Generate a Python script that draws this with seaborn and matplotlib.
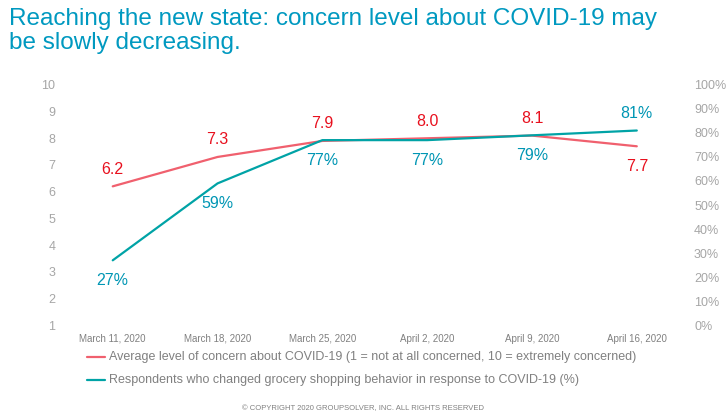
import matplotlib.pyplot as plt
import seaborn as sns
import pandas as pd

dates = ["March 11, 2020", "March 18, 2020", "March 25, 2020", "April 2, 2020", "April 9, 2020", "April 16, 2020"]
concern = [6.2, 7.3, 7.9, 8.0, 8.1, 7.7]
changed_pct = [27, 59, 77, 77, 79, 81]

red = "#f0606e"
teal = "#00a3a6"
label_red = "#e8101e"
label_teal = "#0096b4"
grey = "#a6a6a6"

sns.set_style("white")
plt.rcParams['font.family'] = ['Liberation Sans', 'DejaVu Sans']

df = pd.DataFrame({"date": dates, "concern": concern, "pct": changed_pct, "x": range(len(dates))})

fig = plt.figure(figsize=(7.27, 4.18), dpi=100)
ax = fig.add_axes([0.083, 0.222, 0.865, 0.575])
ax2 = ax.twinx()

sns.lineplot(data=df, x="x", y="concern", ax=ax, color=red, linewidth=1.6)
sns.lineplot(data=df, x="x", y="pct", ax=ax2, color=teal, linewidth=1.6)

ax.set_ylim(1, 10)
ax2.set_ylim(0, 100)
ax.set_xlim(-0.5, 5.5)
ax.set_yticks(range(1, 11))
ax2.set_yticks(range(0, 101, 10))
ax2.set_yticklabels([f"{v}%" for v in range(0, 101, 10)])
ax.set_xticks(df["x"])
ax.set_xticklabels(dates)
for a in (ax, ax2):
    a.tick_params(colors=grey, labelsize=9, length=0)
    a.set_xlabel("")
    a.set_ylabel("")
    for s in a.spines.values():
        s.set_visible(False)
ax.tick_params(axis="x", labelsize=7, colors="#808080", pad=6)

for i, v in enumerate(concern):
    off = -18 if i == 5 else 9
    ax.annotate(f"{v:.1f}", (i, v), xytext=(0, off), textcoords="offset points",
                ha="center", color=label_red, fontsize=11.5)
for i, v in enumerate(changed_pct):
    off = 9 if i == 5 else -18
    ax2.annotate(f"{v}%", (i, v), xytext=(0, off), textcoords="offset points",
                 ha="center", color=label_teal, fontsize=11.5)

fig.text(0.012, 0.98, "Reaching the new state: concern level about COVID-19 may\nbe slowly decreasing.",
         ha="left", va="top", fontsize=17.5, color="#0099c0", linespacing=1.12)

fig.lines.append(plt.Line2D([0.12, 0.145], [0.147, 0.147], transform=fig.transFigure, color=red, lw=1.6))
fig.text(0.15, 0.147, "Average level of concern about COVID-19 (1 = not at all concerned, 10 = extremely concerned)",
         va="center", fontsize=9, color="#808080")
fig.lines.append(plt.Line2D([0.12, 0.145], [0.09, 0.09], transform=fig.transFigure, color=teal, lw=1.6))
fig.text(0.15, 0.09, "Respondents who changed grocery shopping behavior in response to COVID-19 (%)",
         va="center", fontsize=9, color="#808080")
fig.text(0.5, 0.02, "© COPYRIGHT 2020 GROUPSOLVER, INC. ALL RIGHTS RESERVED",
         ha="center", fontsize=5.5, color="#808080")

fig.savefig("out.png", dpi=100)
